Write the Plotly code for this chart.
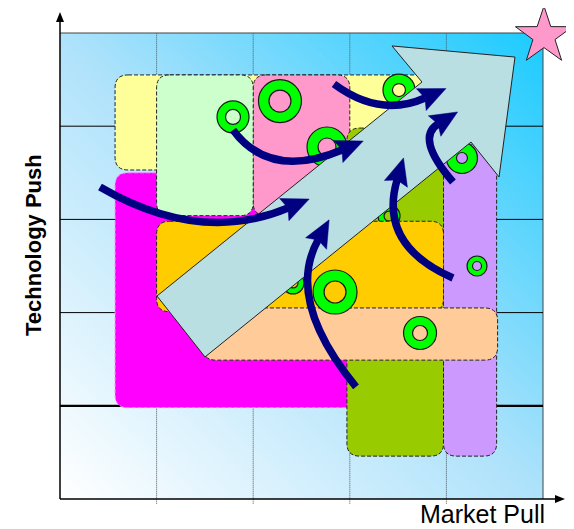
import numpy as np
import plotly.graph_objects as go

# ---------------- data (chart units: x = Market Pull 0..5, y = Technology Push 0..5) ----
x_ticks = [1, 2, 3, 4]
y_ticks = [1, 2, 3, 4]

box_names = ["yellow", "magenta", "pink", "lightgreen", "olive", "orange", "purple", "peach"]
box_x0 = [0.57, 0.57, 2.00, 1.00, 2.97, 1.00, 3.97, 1.48]
box_x1 = [3.93, 3.99, 3.00, 2.00, 3.97, 3.97, 4.52, 4.53]
box_y0 = [3.53, 0.98, 3.04, 3.04, 0.46, 2.01, 0.46, 1.49]
box_y1 = [4.55, 3.50, 4.55, 4.55, 3.98, 2.98, 3.80, 2.05]

# rings: centre (units), outer / inner radius (px)
ring_x = [3.406, 1.791, 2.277, 2.764, 3.509, 4.161, 4.317, 2.847, 3.727, 2.412]
ring_y = [3.036, 4.099, 4.270, 3.777, 4.388, 3.659, 2.500, 2.221, 1.781, 2.318]
ring_ro = [11, 16, 21.5, 20, 16, 15.5, 10, 22, 16.5, 11]
ring_ri = [5, 7.5, 11, 9, 6.5, 5.5, 4.5, 11, 7.5, 5]

# big arrow polygon
arrow_x = [1.004, 3.747, 3.437, 4.710, 4.545, 4.255, 1.501]
arrow_y = [2.178, 4.474, 4.861, 4.742, 3.455, 3.830, 1.524]

# curved arrows: start, control, end
curve_sx = [0.414, 1.791, 2.836, 4.068, 4.068, 3.064]
curve_sy = [3.348, 3.959, 4.453, 3.401, 2.371, 1.202]
curve_cx = [1.449, 2.174, 3.313, 3.675, 3.292, 2.329]
curve_cy = [2.725, 3.423, 4.088, 3.873, 2.725, 2.135]
curve_ex = [2.360, 2.919, 3.778, 3.913, 3.489, 2.671]
curve_ey = [3.122, 3.745, 4.303, 4.024, 3.423, 2.779]

star_x, star_y = 5.010, 4.968

# ---------------- styling ----------------
# the page body has an 8px margin, so the figure is 8px smaller than the window
W, H = 566, 521
SX, SY = 96.6, 93.2            # px per unit
XR = [-52 / SX, 5 + 31 / SX]
YR = [-30 / SY, 5 + 25 / SY]

box_fill = {"yellow": "#ffff99", "magenta": "#ff00ff", "pink": "#ff99cc",
            "lightgreen": "#ccffcc", "olive": "#99cc00", "orange": "#ffcc00",
            "purple": "#cc99ff", "peach": "#ffcc99"}
box_line = {"magenta": "#ff88ff"}
NAVY = "#000080"

shapes = []


def rrect(x0, x1, y0, y1, r=13):
    rx, ry = r / SX, r / SY
    return (f"M {x0+rx},{y1} L {x1-rx},{y1} Q {x1},{y1} {x1},{y1-ry} "
            f"L {x1},{y0+ry} Q {x1},{y0} {x1-rx},{y0} L {x0+rx},{y0} "
            f"Q {x0},{y0} {x0},{y0+ry} L {x0},{y1-ry} Q {x0},{y1} {x0+rx},{y1} Z")


def add_ring(i):
    ro, ri = ring_ro[i], ring_ri[i]
    rm = (ro + ri) / 2
    for r, col, w in [(rm, "#00ff00", ro - ri), (ro, "#1a1a1a", 1.2), (ri, "#1a1a1a", 1.2)]:
        shapes.append(dict(type="circle", xref="x", yref="y", xsizemode="pixel",
                           ysizemode="pixel", xanchor=ring_x[i], yanchor=ring_y[i],
                           x0=-r, x1=r, y0=-r, y1=r, line=dict(color=col, width=w),
                           fillcolor="rgba(0,0,0,0)", layer="above"))


# frame
shapes.append(dict(type="line", xref="x", yref="y", x0=0, x1=5, y0=5, y1=5,
                   line=dict(color="#444", width=1), layer="above"))
shapes.append(dict(type="line", xref="x", yref="y", x0=5, x1=5, y0=0, y1=5,
                   line=dict(color="#444", width=1), layer="above"))
# grid
for t in x_ticks:
    shapes.append(dict(type="line", xref="x", yref="y", x0=t, x1=t, y0=-0.05, y1=5,
                       line=dict(color="#555", width=1, dash="1px,1px"), layer="above"))
for t in y_ticks:
    shapes.append(dict(type="line", xref="x", yref="y", x0=0, x1=5, y0=t, y1=t,
                       line=dict(color="#000", width=2.2 if t == 1 else 1), layer="above"))

# boxes (behind-to-front)
for k, name in enumerate(box_names):
    if name == "orange":
        add_ring(0)
    shapes.append(dict(type="path", xref="x", yref="y",
                       path=rrect(box_x0[k], box_x1[k], box_y0[k], box_y1[k]),
                       fillcolor=box_fill[name],
                       line=dict(color=box_line.get(name, "#222"), width=1, dash="4px,2px"),
                       layer="above"))
for i in range(1, len(ring_x)):
    add_ring(i)

# big arrow
p = "M " + " L ".join(f"{x},{y}" for x, y in zip(arrow_x, arrow_y)) + " Z"
shapes.append(dict(type="path", xref="x", yref="y", path=p, fillcolor="#b9dfe3",
                   line=dict(color="#222", width=1), layer="above"))

# curved arrows
HL, HW, NOTCH = 23, 12, 4
for i in range(len(curve_sx)):
    sx, sy, cx, cy, ex, ey = (curve_sx[i], curve_sy[i], curve_cx[i], curve_cy[i],
                              curve_ex[i], curve_ey[i])
    dx, dy = (ex - cx) * SX, (ey - cy) * SY
    n = np.hypot(dx, dy)
    ux, uy = dx / n, dy / n
    px, py = -uy, ux
    bx, by = ex - 4 * ux / SX, ey - 4 * uy / SY
    tipx, tipy = ex + HL * ux / SX, ey + HL * uy / SY
    nx, ny = bx + NOTCH * ux / SX, by + NOTCH * uy / SY
    l1 = (bx + HW * px / SX, by + HW * py / SY)
    l2 = (bx - HW * px / SX, by - HW * py / SY)
    shapes.append(dict(type="path", xref="x", yref="y",
                       path=f"M {sx},{sy} Q {cx},{cy} {ex},{ey}",
                       line=dict(color=NAVY, width=7.5), layer="above"))
    shapes.append(dict(type="path", xref="x", yref="y",
                       path=(f"M {tipx},{tipy} L {l1[0]},{l1[1]} L {nx},{ny} "
                             f"L {l2[0]},{l2[1]} Z"),
                       fillcolor=NAVY, line=dict(color=NAVY, width=0.5), layer="above"))

# star
R, r = 30, 11.6
pts = []
for k in range(10):
    ang = np.pi / 2 + k * np.pi / 5
    rad = R if k % 2 == 0 else r
    pts.append((star_x + rad * np.cos(ang) / SX, star_y + rad * np.sin(ang) / SY))
shapes.append(dict(type="path", xref="x", yref="y",
                   path="M " + " L ".join(f"{a},{b}" for a, b in pts) + " Z",
                   fillcolor="#ff99cc", line=dict(color="#222", width=1), layer="above"))

# axes with arrowheads
ytip, xtip = 5 + 21 / SY, 5 + 22 / SX
shapes.append(dict(type="line", xref="x", yref="y", x0=0, x1=0, y0=0, y1=ytip - 8 / SY,
                   line=dict(color="#000", width=1.5), layer="above"))
shapes.append(dict(type="line", xref="x", yref="y", x0=0, x1=xtip - 8 / SX, y0=0, y1=0,
                   line=dict(color="#000", width=1.5), layer="above"))
shapes.append(dict(type="path", xref="x", yref="y",
                   path=f"M 0,{ytip} L {4/SX},{ytip-10/SY} L {-4/SX},{ytip-10/SY} Z",
                   fillcolor="#000", line=dict(width=0), layer="above"))
shapes.append(dict(type="path", xref="x", yref="y",
                   path=f"M {xtip},0 L {xtip-10/SX},{4/SY} L {xtip-10/SX},{-4/SY} Z",
                   fillcolor="#000", line=dict(width=0), layer="above"))

# background gradient
N = 120
xe = np.linspace(0, 5, N + 1)
ye = np.linspace(0, 5, N + 1)
xc = (xe[:-1] + xe[1:]) / 2
yc = (ye[:-1] + ye[1:]) / 2
Z = (xc[None, :] + yc[:, None]) / 10
fig = go.Figure(go.Heatmap(x=xe, y=ye, z=Z, showscale=False, hoverinfo="skip",
                           colorscale=[[0, "#ffffff"], [0.5, "#aee2fb"], [1, "#1ccbff"]]))

fig.update_layout(
    width=W, height=H, margin=dict(l=0, r=0, t=0, b=0),
    paper_bgcolor="white", plot_bgcolor="white",
    xaxis=dict(range=XR, visible=False, fixedrange=True),
    yaxis=dict(range=YR, visible=False, fixedrange=True),
    shapes=shapes, showlegend=False,
    annotations=[
        dict(x=-0.28, y=2.725, xref="x", yref="y", text="<b>Technology Push</b>",
             textangle=-90, showarrow=False,
             font=dict(family="Liberation Sans, Arial", size=22, color="#000")),
        dict(x=4.369, y=-0.16, xref="x", yref="y", text="Market Pull", showarrow=False,
             borderpad=0,
             font=dict(family="Liberation Sans, Arial", size=25, color="#000")),
    ],
)
fig.write_html("out.html")
